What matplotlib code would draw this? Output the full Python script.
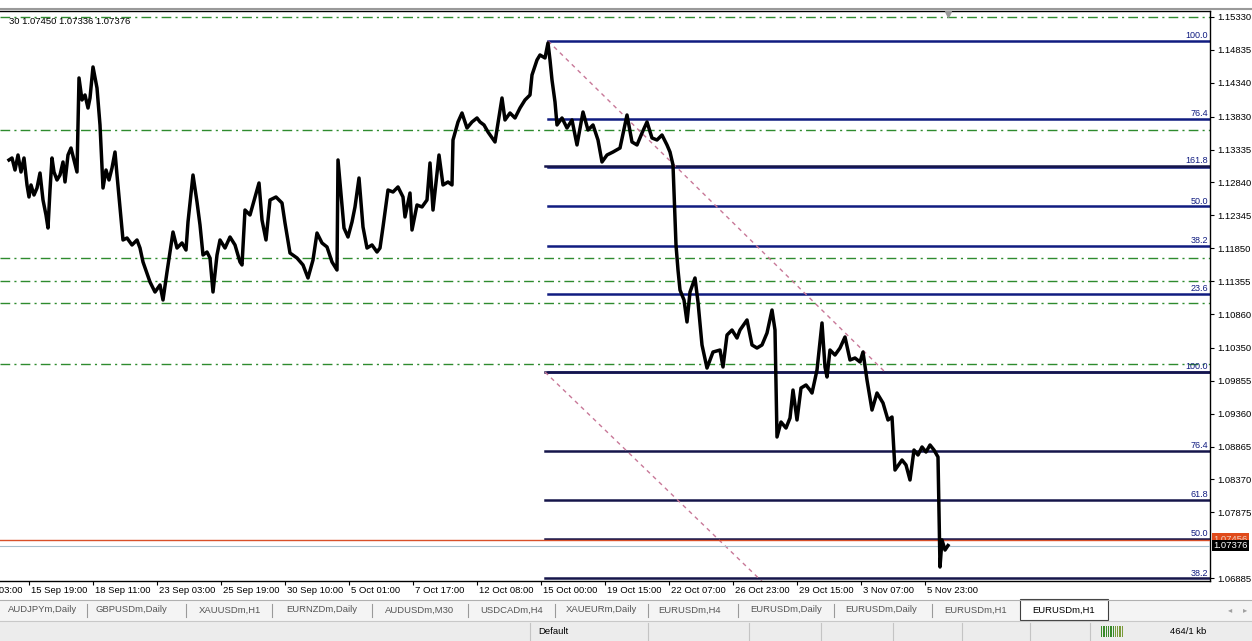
import numpy as np
import matplotlib
matplotlib.use("Agg")
import matplotlib.pyplot as plt
import matplotlib.transforms as mtransforms
from matplotlib.patches import Rectangle

# EURUSDm,H1 - prezzo (indice barra, 0 = 15 Sep 19:00)
bar_idx = [-20, -17, -14, -11, -8, -5, -2, 0, 2, 5, 8, 11, 14, 17, 19, 21, 23, 25, 28, 31,
           34, 36, 39, 42, 45, 48, 50, 53, 56, 59, 61, 64, 68, 71, 74, 77, 80, 83, 86, 88,
           91, 94, 98, 103, 108, 111, 114, 121, 126, 131, 134, 138, 144, 148, 153, 157, 159, 164, 168, 171,
           174, 178, 181, 184, 188, 191, 196, 201, 206, 211,
           213, 216, 221, 226, 230, 233, 237, 241, 247, 253, 256, 261, 268, 274, 279, 284, 288, 293, 298, 303,
           308, 309, 311, 315, 319, 323, 326, 330, 334, 338, 343, 348, 351, 354, 359, 364, 369, 374, 376, 381,
           383, 388, 393, 398, 401, 404, 410, 414, 419, 423, 424, 429, 433, 438, 443, 448, 451,
           455, 459, 466, 473, 476, 481, 486, 491, 496, 501, 503, 508, 511, 516, 519, 521, 523, 526, 528, 533,
           538, 543, 548, 554, 559, 564, 569, 573, 578, 584, 591, 598, 603, 608, 613, 618, 623, 628, 633, 638,
           641, 644, 647, 649, 651, 655, 658, 661, 666, 669, 673, 678, 684, 691,
           694, 698, 703, 708, 711, 718, 723, 728, 733, 738, 743, 746, 748, 752, 757, 761, 764, 768, 772, 777,
           781, 783, 788, 793, 796, 798, 801, 806, 811, 816, 821, 826, 831, 834, 838, 843, 848, 854, 859, 863,
           866, 873, 877, 881, 885, 889, 893, 897, 901, 905, 909, 911, 913, 916, 919]
price = [1.13178, 1.13208, 1.13027, 1.13253, 1.12997, 1.13208, 1.12802, 1.12621, 1.12802, 1.12651,
         1.12756, 1.12982, 1.12576, 1.12350, 1.12154, 1.12726, 1.13208, 1.12997, 1.12877, 1.12952,
         1.13148, 1.12847, 1.13253, 1.13358, 1.13178, 1.12997, 1.14412, 1.14081, 1.14156, 1.13960,
         1.14111, 1.14578, 1.14261, 1.13705, 1.12756, 1.13027, 1.12877, 1.13057, 1.13298, 1.12952,
         1.12455, 1.11974, 1.12004, 1.11899, 1.11974, 1.11853, 1.11643, 1.11342, 1.11191, 1.11297,
         1.11071, 1.11492, 1.12094, 1.11853, 1.11929, 1.11823, 1.12245, 1.12952, 1.12546, 1.12200,
         1.11748, 1.11793, 1.11703, 1.11191, 1.11748, 1.11974, 1.11853, 1.12019, 1.11899, 1.11643,
         1.11598, 1.12425, 1.12350, 1.12621, 1.12832, 1.12275, 1.11974, 1.12576, 1.12621, 1.12531,
         1.12230, 1.11778, 1.11703, 1.11598, 1.11402, 1.11673, 1.12079, 1.11929, 1.11869, 1.11643,
         1.11522, 1.13178, 1.12832, 1.12154, 1.12019, 1.12245, 1.12471, 1.12907, 1.12170, 1.11853,
         1.11899, 1.11793, 1.11853, 1.12170, 1.12726, 1.12696, 1.12772, 1.12621, 1.12320, 1.12681,
         1.12124, 1.12501, 1.12471, 1.12576, 1.13133, 1.12425, 1.13253, 1.12802, 1.12847, 1.12802,
         1.13479, 1.13750, 1.13885, 1.13659, 1.13750, 1.13810, 1.13750,
         1.13705, 1.13599, 1.13449, 1.14111, 1.13780, 1.13885, 1.13810, 1.13960, 1.14081, 1.14156,
         1.14457, 1.14683, 1.14758, 1.14713, 1.14939, 1.14683, 1.14382, 1.14051, 1.13705, 1.13810,
         1.13659, 1.13780, 1.13404, 1.13900, 1.13629, 1.13705, 1.13479, 1.13148, 1.13253, 1.13298,
         1.13358, 1.13855, 1.13449, 1.13404, 1.13584, 1.13750, 1.13509, 1.13479, 1.13554, 1.13404,
         1.13298, 1.13103, 1.11899, 1.11522, 1.11221, 1.11071, 1.10740, 1.11191, 1.11402, 1.11041,
         1.10394, 1.10047, 1.10288, 1.10318,
         1.10063, 1.10544, 1.10619, 1.10499, 1.10619, 1.10770, 1.10394, 1.10348, 1.10394, 1.10574,
         1.10920, 1.10619, 1.09009, 1.09235, 1.09144, 1.09295, 1.09716, 1.09265, 1.09746, 1.09792,
         1.09716, 1.09671, 1.10017, 1.10725, 1.10063, 1.09912, 1.10318, 1.10243, 1.10348, 1.10514,
         1.10168, 1.10198, 1.10138, 1.10288, 1.09867, 1.09415, 1.09671, 1.09521, 1.09265, 1.09310,
         1.08512, 1.08663, 1.08588, 1.08362, 1.08813, 1.08738, 1.08859, 1.08783, 1.08889, 1.08813,
         1.08708, 1.07053, 1.07459, 1.07308, 1.07376]

y_ticks = [1.15330, 1.14835, 1.14340, 1.13830, 1.13335, 1.12840, 1.12345, 1.11850, 1.11355,
           1.10860, 1.10350, 1.09855, 1.09360, 1.08865, 1.08370, 1.07875, 1.06885]
x_tick_bars = [-64, 0, 64, 128, 192, 256, 320, 384, 448, 512, 576, 640, 704, 768, 832, 896]
x_tick_labels = ["11 Sep 03:00", "15 Sep 19:00", "18 Sep 11:00", "23 Sep 03:00", "25 Sep 19:00",
                 "30 Sep 10:00", "5 Oct 01:00", "7 Oct 17:00", "12 Oct 08:00", "15 Oct 00:00",
                 "19 Oct 15:00", "22 Oct 07:00", "26 Oct 23:00", "29 Oct 15:00", "3 Nov 07:00",
                 "5 Nov 23:00"]

# livelli orizzontali (tratto-punto verdi)
green_levels = [1.15330, 1.13629, 1.11703, 1.11357, 1.11026, 1.10108]

# due ritracciamenti di Fibonacci
fib1_start, fib1_end = 519, 856
fib1_high, fib1_low = 1.14969, 1.09987
fib1_levels = [100.0, 76.4, 61.8, 50.0, 38.2, 23.6, 0.0]
fib2_start, fib2_end = 516, 862
fib2_high, fib2_low = 1.09987, 1.04961
fib2_levels = [161.8, 100.0, 76.4, 61.8, 50.0, 38.2]

last_bid = 1.07376
last_ask = 1.07456
header = "30 1.07450 1.07336 1.07376"

tab_names = ["AUDJPYm,Daily", "GBPUSDm,Daily", "XAUUSDm,H1", "EURNZDm,Daily", "AUDUSDm,M30",
             "USDCADm,H4", "XAUEURm,Daily", "EURUSDm,H4", "EURUSDm,Daily", "EURUSDm,Daily",
             "EURUSDm,H1"]
active_tab = "EURUSDm,H1"
status_profile = "Default"
status_traffic = "464/1 kb"

FONT = "Liberation Sans"
W, H = 1252, 641

fig = plt.figure(figsize=(W / 100, H / 100), dpi=100)
fig.patch.set_facecolor("white")

# --- grafico principale ---
ax = fig.add_axes([0, (H - 581) / H, 1210 / W, 570 / H])

for lv in green_levels:
    ax.axhline(lv, color="#2e8b2e", lw=1, dashes=(7, 3, 1.5, 3), zorder=1)

navy = "#101c80"
fib2_prices = [fib2_low + lv / 100 * (fib2_high - fib2_low) for lv in fib2_levels]
for lv in fib1_levels:
    p = fib1_low + lv / 100 * (fib1_high - fib1_low)
    ax.plot([fib1_start, 1181], [p, p], color=navy, lw=1.8, zorder=2)
    # dove coincide con un livello del secondo fibo resta una sola etichetta
    if min(abs(p - q) for q in fib2_prices) > 0.0004:
        ax.text(1179, p + 0.00012, f"{lv:.1f}", color=navy, fontsize=6.5, family=FONT,
                ha="right", va="bottom", zorder=5)
for lv, p in zip(fib2_levels, fib2_prices):
    ax.plot([fib2_start, 1181], [p, p], color="#15154a", lw=1.8, zorder=2)
    ax.text(1179, p + 0.00012, f"{lv:.1f}", color=navy, fontsize=6.5, family=FONT,
            ha="right", va="bottom", zorder=5)

ax.plot([fib1_start, fib1_end], [fib1_high, fib1_low], color="#c87898", lw=1,
        dashes=(3, 3), zorder=2)
ax.plot([fib2_start, fib2_end], [fib2_high, fib2_low], color="#c87898", lw=1,
        dashes=(3, 3), zorder=2)

# linee bid / ask
ax.axhline(last_ask, color="#d8502a", lw=1, zorder=3)
ax.axhline(last_bid, color="#a9bfcc", lw=0.8, zorder=3)

ax.plot(bar_idx, price, color="black", lw=2.5, zorder=4)

ax.spines["left"].set_visible(False)
for s in ["top", "bottom", "right"]:
    ax.spines[s].set_color("black")
    ax.spines[s].set_linewidth(1)

ax.yaxis.tick_right()
ax.set_yticks(y_ticks)
ax.set_yticklabels([f"{v:.5f}" for v in y_ticks])
ax.tick_params(axis="y", length=3, width=0.8, pad=2, labelsize=6.8, colors="black")
for lab in ax.get_yticklabels():
    lab.set_family(FONT)

ax.set_xticks(x_tick_bars)
ax.set_xticklabels([])
ax.tick_params(axis="x", length=3, width=0.8, direction="out")

# limiti dopo i tick, altrimenti set_xticks li allarga
ax.set_xlim(-29, 1181)
ax.set_ylim(1.06842, 1.15420)

tr = mtransforms.blended_transform_factory(ax.transData, ax.transAxes)
for b, lab in zip(x_tick_bars, x_tick_labels):
    ax.text(b + 2, -0.008, lab, transform=tr, fontsize=6.8, family=FONT,
            ha="left", va="top", clip_on=False)

# box prezzo corrente
ytr = mtransforms.blended_transform_factory(ax.transAxes, ax.transData)
ax.text(1.003, last_ask + 0.00012, f"{last_ask:.5f}", transform=ytr, fontsize=6.8, family=FONT,
        color="#f0d0c0", ha="left", va="center", clip_on=False,
        bbox=dict(boxstyle="square,pad=0.15", fc="#e04a1a", ec="none"))
ax.text(1.003, last_bid, f"{last_bid:.5f}", transform=ytr, fontsize=6.8, family=FONT,
        color="white", ha="left", va="center", clip_on=False,
        bbox=dict(boxstyle="square,pad=0.15", fc="black", ec="none"))

# --- barra schede e barra di stato (coordinate pixel) ---
ui = fig.add_axes([0, 0, 1, 1], zorder=3)
ui.set_xlim(0, W)
ui.set_ylim(H, 0)
ui.axis("off")

ui.plot([0, W], [9, 9], color="#9a9a9a", lw=1.5)
ui.plot([948], [14], marker="v", color="#9a9a9a", ms=4)
ui.text(9, 21, header, fontsize=6.8, family=FONT, va="center", ha="left")

ui.add_patch(Rectangle((0, 600), W, 21, fc="#f4f4f4", ec="none"))
ui.plot([0, W], [600, 600], color="#b0b0b0", lw=0.8)
ui.add_patch(Rectangle((0, 621), W, 20, fc="#ececec", ec="none"))
ui.plot([0, W], [621, 621], color="#c8c8c8", lw=0.8)

tab_x = [8, 96, 199, 286, 385, 480, 566, 658, 750, 845, 944]
sep_x = [87, 186, 272, 372, 468, 555, 648, 738, 834, 932]
for x, name in zip(tab_x, tab_names):
    ui.text(x, 610, name, fontsize=6.8, family=FONT, color="#555555", va="center", ha="left")
for x in sep_x:
    ui.plot([x, x], [604, 617], color="#9a9a9a", lw=0.8)
ui.add_patch(Rectangle((1020, 599), 88, 21, fc="white", ec="#404040", lw=0.8))
ui.text(1064, 610, active_tab, fontsize=6.8, family=FONT, color="black", va="center", ha="center")
ui.text(1230, 610, "\u25c2", fontsize=6, color="#a0a0a0", va="center", ha="center")
ui.text(1245, 610, "\u25b8", fontsize=6, color="#a0a0a0", va="center", ha="center")

for x in [530, 648, 749, 821, 893, 962, 1030, 1090]:
    ui.plot([x, x], [623, 641], color="#c4c4c4", lw=0.8)
ui.text(538, 632, status_profile, fontsize=6.8, family=FONT, va="center", ha="left")
ui.text(1170, 632, status_traffic, fontsize=6.8, family=FONT, va="center", ha="left")
for i in range(10):
    ui.add_patch(Rectangle((1101 + i * 2.3, 626), 1.3, 11,
                           fc="#3a8a2a" if i < 6 else "#7a9a3a", ec="none"))

fig.savefig("out.png", dpi=100)
